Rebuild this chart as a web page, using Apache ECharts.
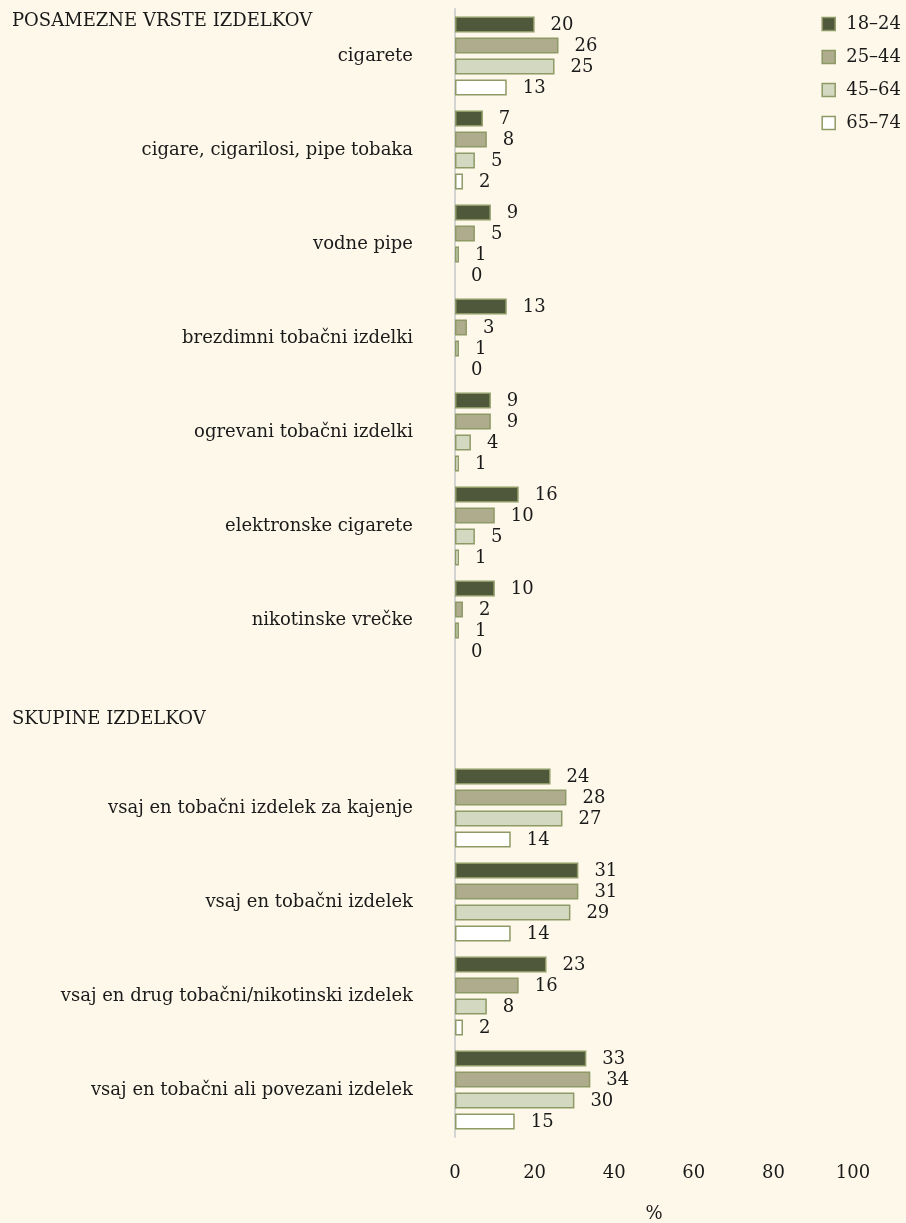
<!DOCTYPE html>
<html>
<head>
<meta charset="utf-8">
<script src="https://cdn.jsdelivr.net/npm/echarts@6/dist/echarts.min.js"></script>
<style>
  html, body { margin: 0; padding: 0; background: #fdf8e9; }
  #chart { width: 906px; height: 1223px; }
</style>
</head>
<body>
<div id="chart"></div>
<script>
// categories, '' = empty row that leaves room for the second header
const categories = [
  'cigarete',
  'cigare, cigarilosi, pipe tobaka',
  'vodne pipe',
  'brezdimni tobačni izdelki',
  'ogrevani tobačni izdelki',
  'elektronske cigarete',
  'nikotinske vrečke',
  '',
  'vsaj en tobačni izdelek za kajenje',
  'vsaj en tobačni izdelek',
  'vsaj en drug tobačni/nikotinski izdelek',
  'vsaj en tobačni ali povezani izdelek'
];
const ageGroups = ['18–24', '25–44', '45–64', '65–74'];
const v18_24 = [20, 7, 9, 13, 9, 16, 10, null, 24, 31, 23, 33];
const v25_44 = [26, 8, 5, 3, 9, 10, 2, null, 28, 31, 16, 34];
const v45_64 = [25, 5, 1, 1, 4, 5, 1, null, 27, 29, 8, 30];
const v65_74 = [13, 2, 0, 0, 1, 1, 0, null, 14, 14, 2, 15];
const xTicks = [0, 20, 40, 60, 80, 100];
const headers = ['POSAMEZNE VRSTE IZDELKOV', 'SKUPINE IZDELKOV'];

const FONT = 'DejaVu Serif';
const TXT = '#1a1a1a';
const fills = ['#4f583a', '#aeac8d', '#d3d9c1', '#ffffff'];
const border = '#8e9a66';

const chart = echarts.init(document.getElementById('chart'));

const mkSeries = (name, data, color) => ({
    name: name,
    type: 'bar',
    barWidth: 16,
    barGap: '31%',
    // zero values: no outline, only the "0" label
    data: data.map(v => v === 0 ? { value: 0, itemStyle: { borderWidth: 0 } } : v),
    itemStyle: {
        color: color,
        borderColor: border,
        borderWidth: 1.5
    },
    label: {
        show: true,
        position: 'right',
        distance: 16,
        offset: [0, 1],
        fontFamily: FONT,
        fontSize: 18,
        color: TXT
    }
});

chart.setOption({
    backgroundColor: '#fdf8e9',
    animation: false,
    textStyle: { fontFamily: FONT },
    grid: {
        left: 455,
        right: 53,
        top: 9,
        bottom: 86,
        outerBoundsMode: 'none'
    },
    legend: {
        orient: 'vertical',
        right: 0,
        top: 10,
        icon: 'rect',
        itemWidth: 13,
        itemHeight: 13,
        itemGap: 15,
        textStyle: { fontFamily: FONT, fontSize: 18, color: TXT, padding: [0, 0, 0, 6] },
        itemStyle: { borderColor: border, borderWidth: 1.5 },
        data: ageGroups
    },
    graphic: [
        { type: 'text', left: 12, top: 12, style: { text: headers[0], font: '18px "DejaVu Serif"', fill: TXT } },
        { type: 'text', left: 12, top: 710, style: { text: headers[1], font: '18px "DejaVu Serif"', fill: TXT } }
    ],
    xAxis: {
        type: 'value',
        min: 0,
        max: 100,
        interval: 20,
        name: '%',
        nameLocation: 'middle',
        nameGap: 68,
        nameTextStyle: { fontFamily: FONT, fontSize: 18, color: TXT },
        axisLine: { show: false },
        axisTick: { show: false },
        splitLine: { show: false },
        axisLabel: {
            margin: 27,
            fontFamily: FONT,
            fontSize: 18,
            color: TXT,
            formatter: v => xTicks.indexOf(v) > -1 ? String(v) : ''
        }
    },
    yAxis: {
        type: 'category',
        inverse: true,
        data: categories,
        axisLine: { show: true, lineStyle: { color: '#d3d3d3', width: 2 } },
        axisTick: { show: false },
        axisLabel: {
            margin: 42,
            fontFamily: FONT,
            fontSize: 18,
            color: TXT
        }
    },
    series: [
        mkSeries(ageGroups[0], v18_24, fills[0]),
        mkSeries(ageGroups[1], v25_44, fills[1]),
        mkSeries(ageGroups[2], v45_64, fills[2]),
        mkSeries(ageGroups[3], v65_74, fills[3])
    ]
});

window.addEventListener('resize', () => chart.resize());
</script>
</body>
</html>
